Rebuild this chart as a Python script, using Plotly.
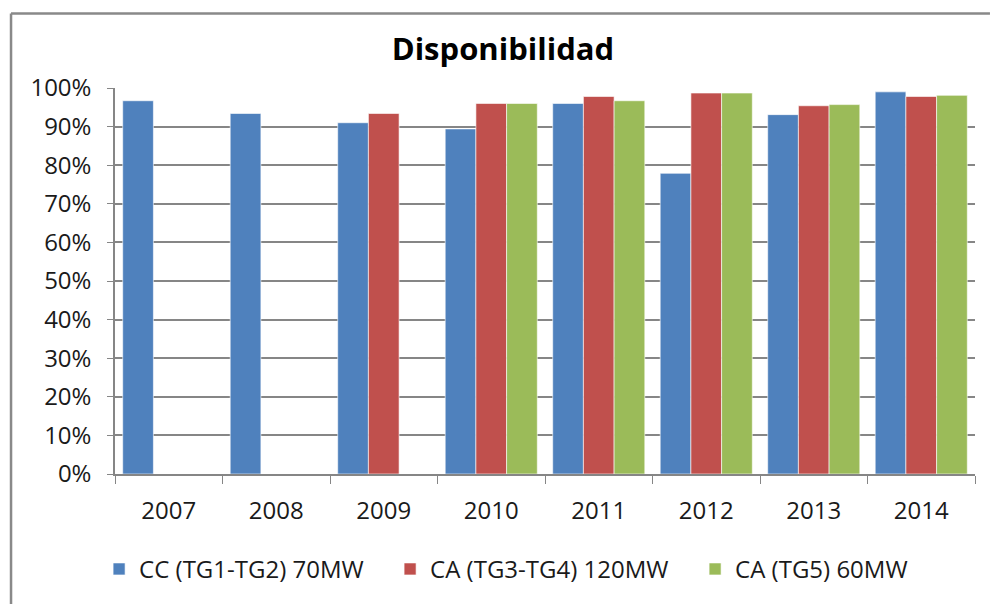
import plotly.graph_objects as go

years = ["2007", "2008", "2009", "2010", "2011", "2012", "2013", "2014"]
cc_tg1_tg2 = [0.967, 0.934, 0.910, 0.894, 0.960, 0.779, 0.931, 0.990]
ca_tg3_tg4 = [None, None, 0.934, 0.960, 0.978, 0.987, 0.954, 0.978]
ca_tg5 = [None, None, None, 0.960, 0.967, 0.987, 0.957, 0.981]

names = ["CC (TG1-TG2) 70MW", "CA (TG3-TG4) 120MW", "CA (TG5) 60MW"]
colors = ["#4F81BD", "#C0504D", "#9BBB59"]
series = [cc_tg1_tg2, ca_tg3_tg4, ca_tg5]
legend_widths = [246, 260, 175]

fig = go.Figure()
for name, vals, col, lw in zip(names, series, colors, legend_widths):
    fig.add_trace(go.Bar(
        x=years, y=vals, name=name, legendwidth=lw,
        marker=dict(color=col, line=dict(color="rgba(255,255,255,0.6)", width=1)),
    ))

font_family = "Open Sans, Liberation Sans, Arial, sans-serif"
border = dict(color="#898989", width=2.5)

fig.update_layout(
    width=990, height=604,
    margin=dict(l=115, r=15, t=88, b=128),
    paper_bgcolor="white", plot_bgcolor="white",
    barmode="group", bargap=0.143, bargroupgap=0,
    font=dict(family=font_family, size=24, color="#1a1a1a"),
    title=dict(text="<b>Disponibilidad</b>", x=0.508, xanchor="center",
               y=0.918, yanchor="middle", yref="container",
               font=dict(family=font_family, size=31, color="#000000")),
    showlegend=True,
    legend=dict(orientation="h", xanchor="left", x=-0.0185, yanchor="middle", y=-0.247,
                font=dict(family=font_family, size=24, color="#1a1a1a"),
                itemwidth=30, traceorder="normal", bgcolor="rgba(0,0,0,0)"),
    xaxis=dict(type="category", showline=True, linecolor="#868686", linewidth=1.5,
               ticks="outside", tickson="boundaries", ticklen=8, tickcolor="#868686",
               tickfont=dict(size=24), showgrid=False, ticklabelstandoff=14),
    yaxis=dict(range=[0, 1.0], dtick=0.1, tickformat=".0%", showline=True,
               linecolor="#868686", linewidth=1.5, ticks="outside", ticklen=6,
               tickcolor="#868686", gridcolor="#868686", gridwidth=1.5,
               tickfont=dict(size=24), zeroline=False, ticklabelstandoff=11),
    shapes=[
        dict(type="line", xref="paper", yref="paper",
             x0=-0.1209, x1=1.0174, y0=1.193, y1=1.193, line=border),
        dict(type="line", xref="paper", yref="paper",
             x0=-0.1209, x1=-0.1209, y0=1.193, y1=-0.34, line=border),
    ],
)

fig.write_html(
    "out.html", config={"displayModeBar": False},
    post_script=("var s=document.createElement('style');"
                 "s.textContent='html,body{margin:0;padding:0;overflow:hidden;scrollbar-width:none;}"
                 "::-webkit-scrollbar{display:none;width:0;height:0;}';"
                 "document.head.appendChild(s);"),
)
